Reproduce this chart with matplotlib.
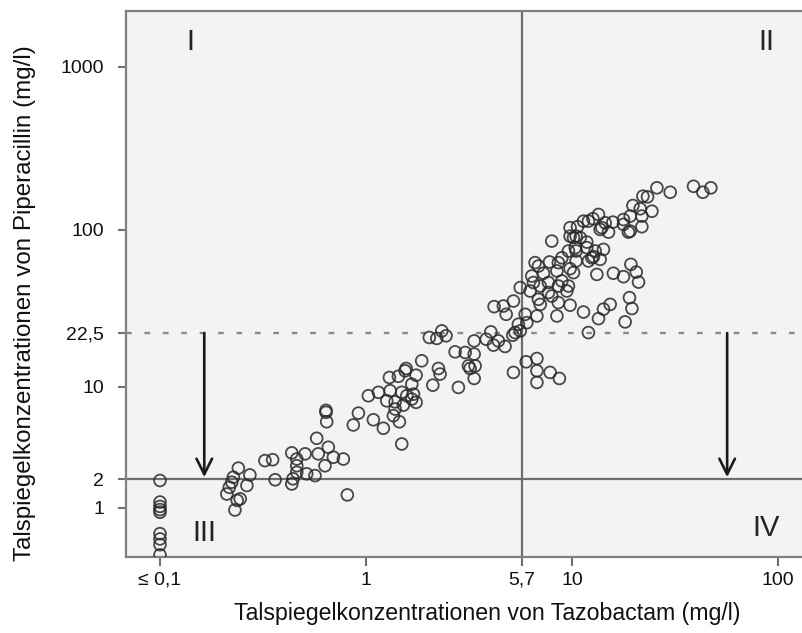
import matplotlib.pyplot as plt
import numpy as np
from matplotlib.ticker import FixedLocator, FixedFormatter, NullLocator

plt.rcParams['font.family'] = ['Liberation Sans', 'DejaVu Sans']

# Talspiegel Tazobactam (mg/l)
tazo = [
    0.1, 0.1, 0.1, 0.1, 0.1, 0.1, 0.1, 0.1, 0.1,
    0.240, 0.273, 0.227, 0.223, 0.264, 0.217, 0.211, 0.245, 0.237, 0.231,
    0.323, 0.352, 0.362, 0.436, 0.436, 0.461, 0.461, 0.461, 0.515, 0.506, 0.442,
    0.811, 0.565, 0.586, 0.656, 0.632, 0.694, 0.776, 0.576, 0.639, 0.644, 0.639,
    0.867, 0.918, 1.085, 1.213, 1.451, 1.490, 1.026, 1.148, 1.308, 1.298, 1.435,
    1.546, 1.749, 1.667, 1.260, 1.383, 1.383, 1.357, 1.517, 1.576, 1.698, 1.749,
    1.667, 1.490, 2.108, 2.286, 2.805,
    2.028, 2.203, 2.330, 2.443, 3.345, 3.828, 4.030, 4.385, 4.150, 4.726, 2.704,
    3.027, 3.345, 3.138, 3.197, 3.381, 3.345, 1.862, 2.244, 1.564,
    4.180, 4.636, 4.783, 5.188, 5.188, 5.916, 5.483, 5.284, 5.152, 5.983,
    7.962, 10.61, 10.45, 11.78, 13.67, 11.99, 9.772, 14.19, 12.93, 10.45, 8.913,
    7.762, 6.607, 10.45, 11.99, 13.18, 9.772, 8.433, 7.261, 6.370, 6.486, 7.674,
    8.913, 9.594, 8.570, 6.998, 5.598, 6.252, 7.674, 9.419, 6.855, 7.962, 8.570,
    9.772, 6.998, 11.35, 14.19, 13.42, 8.433, 6.745, 6.026, 5.598, 11.99, 6.745,
    6.745, 7.816, 8.670, 6.745,
    25.78, 29.91, 38.81, 43.06, 47.10, 22.04, 23.21, 19.72, 21.38, 24.38, 21.79,
    19.13, 17.74, 17.74, 15.76, 14.46, 13.42, 12.61, 15.01, 18.75, 21.79, 12.69,
    15.85, 17.74, 19.27, 20.46, 20.99, 18.97, 19.50, 18.07, 15.29,
    9.77, 11.35, 13.93, 19.13, 10.15, 10.94, 11.78, 10.35, 9.59, 13.67, 12.46,
    8.57, 6.86, 10.15,
]

# Talspiegel Piperacillin (mg/l)
pip = [
    1.94, 1.17, 1.04, 0.95, 0.88, 0.39, 0.29, 0.19, 0.03,
    2.50, 2.18, 2.08, 1.87, 1.74, 1.67, 1.43, 1.27, 1.22, 0.94,
    2.89, 2.94, 1.97, 3.34, 1.80, 2.98, 2.62, 2.30, 2.23, 3.28, 2.01,
    1.40, 2.15, 3.28, 3.70, 2.62, 3.08, 2.98, 4.33, 6.69, 5.73, 6.90,
    5.43, 6.60, 5.92, 5.14, 5.73, 3.92, 8.71, 9.19, 9.42, 11.56, 11.77,
    12.80, 11.97, 10.43, 8.04, 7.91, 7.05, 6.33, 7.51, 8.71, 8.93, 7.85,
    8.27, 9.19, 10.27, 12.18, 9.92,
    21.08, 20.78, 23.22, 21.60, 20.04, 20.54, 22.88, 20.04, 18.82, 18.45, 17.03,
    16.87, 16.46, 13.79, 13.26, 13.79, 11.39, 14.89, 13.26, 13.26,
    33.1, 33.4, 29.6, 35.9, 12.49, 29.6, 25.6, 22.66, 21.80, 14.67,
    84.9, 104.2, 91.1, 83.7, 100.2, 112.8, 91.1, 75.4, 73.7, 73.7, 66.9,
    63.0, 62.4, 63.9, 63.9, 52.7, 57.2, 55.4, 53.6, 51.5, 46.9, 46.9,
    48.0, 44.6, 44.6, 44.6, 43.6, 41.5, 40.6, 41.5, 36.8, 38.6, 35.1,
    33.8, 34.2, 30.6, 31.9, 27.8, 28.9, 28.9, 26.2, 23.22, 22.66, 15.41,
    12.80, 12.49, 11.39, 10.72,
    181, 170, 185, 170, 181, 160.8, 159.3, 140.9, 134.5, 129.9, 121.2,
    121.2, 115.4, 107.7, 111.2, 110.2, 124.0, 116.8, 96.5, 96.5, 104.2, 68.0,
    53.6, 51.0, 60.9, 54.5, 47.2, 37.7, 32.2, 26.5, 34.2,
    102.8, 112.8, 102.8, 97.9, 89.2, 89.2, 77.3, 77.3, 73.7, 65.4, 66.9,
    62.4, 59.4, 54.1,
]

x_ticks = [0.1, 1, 5.7, 10, 100]
x_labels = ['≤ 0,1', '1', '5,7', '10', '100']
y_ticks = [1, 2, 10, 22.5, 100, 1000]
y_labels = ['1', '2', '10', '22,5', '100', '1000']

tazo_cut = 5.7
pip_cut = 22.5
pip_low = 2


def fwd(v):
    return np.log10(np.clip(v, 0, None) + 1)


def inv(t):
    return 10 ** t - 1


fig = plt.figure(figsize=(8.03, 6.33), dpi=100)
# axes run past the right edge, as in the cropped original
ax = fig.add_axes([126 / 803, 76 / 633, 722 / 803, 546 / 633])
ax.set_facecolor('#f3f3f3')

ax.set_xscale('log')
ax.set_yscale('function', functions=(fwd, inv))
ax.set_xlim(0.0684, 218)
ax.set_ylim(0, 2200)

ax.scatter(tazo, pip, s=72, facecolors='none', edgecolors='#2a2a2a',
           linewidths=1.3, alpha=0.85, zorder=3)

ax.axvline(tazo_cut, color='#6e6e6e', lw=1.6, zorder=2)
ax.axhline(pip_low, color='#6e6e6e', lw=1.6, zorder=2)
ax.axhline(pip_cut, color='#8a8a8a', lw=1.7, ls=(0, (2.4, 5.4)), zorder=2)

for xa in [0.164, 56.5]:
    ax.annotate('', xy=(xa, 2.08), xytext=(xa, pip_cut),
                arrowprops=dict(arrowstyle='->', color='#1a1a1a', lw=1.9,
                                mutation_scale=28, shrinkA=0, shrinkB=0))

ax.text(0.14, 1420, 'I', fontsize=21, ha='center', va='center', color='#222222')
ax.text(87.5, 1420, 'II', fontsize=21, ha='center', va='center', color='#222222')
ax.text(0.165, 0.41, 'III', fontsize=21, ha='center', va='center', color='#222222')
ax.text(87.5, 0.50, 'IV', fontsize=21, ha='center', va='center', color='#222222')

ax.xaxis.set_major_locator(FixedLocator(x_ticks))
ax.xaxis.set_major_formatter(FixedFormatter(x_labels))
ax.xaxis.set_minor_locator(NullLocator())
ax.yaxis.set_major_locator(FixedLocator(y_ticks))
ax.yaxis.set_major_formatter(FixedFormatter(y_labels))
ax.yaxis.set_minor_locator(NullLocator())

ax.tick_params(axis='both', direction='out', width=1.5, color='#707070',
               labelsize=14, labelcolor='#111111')
ax.tick_params(axis='x', length=6.5, pad=4)
ax.tick_params(axis='y', length=5.8, pad=10)

for side in ['left', 'bottom', 'top']:
    ax.spines[side].set_color('#808080')
    ax.spines[side].set_linewidth(1.6)
ax.spines['right'].set_visible(False)

ax.set_xlabel('Talspiegelkonzentrationen von Tazobactam (mg/l)', fontsize=16.7,
              color='#111111')
ax.set_ylabel('Talspiegelkonzentrationen von Piperacillin (mg/l)', fontsize=17.4,
              color='#111111')
ax.xaxis.set_label_coords((487 - 126) / 722, -(602 - 557) / 546)
ax.yaxis.set_label_coords(-(126 - 36) / 722, (557 - 303) / 546)

fig.savefig('out.png', dpi=100)
